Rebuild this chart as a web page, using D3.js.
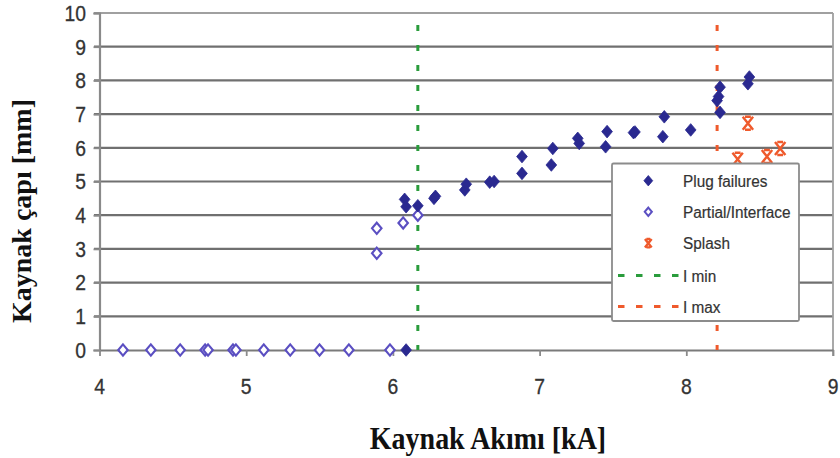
<!DOCTYPE html>
<html>
<head>
<meta charset="utf-8">
<script src="https://cdn.jsdelivr.net/npm/d3@7"></script>
<style>
  html, body { margin: 0; padding: 0; background: #fff; }
  svg { display: block; }
</style>
</head>
<body>
<svg id="chart" width="840" height="458"></svg>
<script>
// ---------------- DATA ----------------
const xTicks = [4, 5, 6, 7, 8, 9];
const yTicks = [0, 1, 2, 3, 4, 5, 6, 7, 8, 9, 10];

const plugX = [6.09, 6.08, 6.09, 6.17, 6.28, 6.29, 6.49, 6.50, 6.66, 6.69, 6.88, 6.88, 7.08, 7.09, 7.26, 7.27, 7.45, 7.46, 7.64, 7.65, 7.84, 7.85, 8.03, 8.23, 8.21, 8.22, 8.23, 8.42, 8.43];
const plugY = [0.00, 4.47, 4.25, 4.28, 4.50, 4.56, 4.75, 4.92, 4.98, 5.00, 5.24, 5.74, 5.49, 5.98, 6.28, 6.13, 6.03, 6.48, 6.45, 6.47, 6.33, 6.92, 6.53, 7.80, 7.40, 7.52, 7.05, 7.90, 8.10];

const partialX = [4.16, 4.35, 4.55, 4.72, 4.74, 4.91, 4.93, 5.12, 5.30, 5.50, 5.70, 5.98, 5.89, 5.89, 6.07, 6.17];
const partialY = [0, 0, 0, 0, 0, 0, 0, 0, 0, 0, 0, 0, 3.61, 2.87, 3.77, 4.00];

const splashX = [8.42, 8.35, 8.55, 8.64];
const splashY = [6.73, 5.66, 5.74, 5.98];

const iMin = 6.17;
const iMax = 8.21;

const legendLabels = ["Plug failures", "Partial/Interface", "Splash", "I min", "I max"];
const xTitle = "Kaynak Akımı [kA]";
const yTitle = "Kaynak çapı [mm]";

// ---------------- STYLE ----------------
const C_PLUG = "#2a2990";
const C_PART = "#5b4fc2";
const C_SPLASH = "#ef5a2c";
const C_GREEN = "#2a9c3c";
const C_RED = "#ef5a2c";
const SANS = "'Liberation Sans', Arial, sans-serif";
const SERIF = "'Liberation Serif', 'Times New Roman', serif";

const svg = d3.select("#chart");
const x = d3.scaleLinear().domain([4, 9]).range([99.5, 833]);
const y = d3.scaleLinear().domain([0, 10]).range([350, 13]);

// gridlines
const grid = svg.append("g");
grid.selectAll("line.h").data(yTicks.filter(d => d > 0)).enter().append("line")
  .attr("x1", 94).attr("x2", x(9))
  .attr("y1", d => y(d)).attr("y2", d => y(d))
  .attr("stroke", d => d === 10 ? "#a0a0a0" : "#707070")
  .attr("stroke-width", d => d === 10 ? 1.8 : 2.2);

// right frame
svg.append("line").attr("x1", x(9)).attr("x2", x(9)).attr("y1", y(10)).attr("y2", y(0) + 6)
  .attr("stroke", "#a0a0a0").attr("stroke-width", 1.8);

// y axis (left)
const yAxis = d3.axisLeft(y).tickValues(yTicks).tickSize(6).tickFormat("");
const gy = svg.append("g").attr("transform", `translate(${x(4)},0)`).call(yAxis);
gy.select(".domain").attr("stroke", "#8a8a8a").attr("stroke-width", 2.2);
gy.selectAll(".tick line").attr("stroke", "#8a8a8a").attr("stroke-width", 1.8);

// x axis (bottom)
const xAxis = d3.axisBottom(x).tickValues(xTicks).tickSize(6).tickSizeOuter(0).tickFormat("");
const gx = svg.append("g").attr("transform", `translate(0,${y(0)})`).call(xAxis);
gx.select(".domain").attr("stroke", "#7a7a7a").attr("stroke-width", 2.2);
gx.selectAll(".tick line").attr("stroke", "#8a8a8a").attr("stroke-width", 1.8);

// tick labels
svg.append("g").selectAll("text").data(yTicks).enter().append("text")
  .attr("transform", d => `translate(86,${y(d) + 7.8}) scale(0.92,1.06)`)
  .attr("text-anchor", "end")
  .attr("font-family", SANS).attr("font-size", 21)
  .attr("fill", "#333").attr("stroke", "#333").attr("stroke-width", 0.3)
  .text(d => d);
svg.append("g").selectAll("text").data(xTicks).enter().append("text")
  .attr("transform", d => `translate(${x(d)},${394}) scale(0.92,1.06)`)
  .attr("text-anchor", "middle")
  .attr("font-family", SANS).attr("font-size", 21)
  .attr("fill", "#333").attr("stroke", "#333").attr("stroke-width", 0.3)
  .text(d => d);

// axis titles
svg.append("text")
  .attr("transform", `translate(488,449) scale(1,1.15)`)
  .attr("text-anchor", "middle")
  .attr("font-family", SERIF).attr("font-weight", "bold").attr("font-size", 28)
  .attr("fill", "#111")
  .text(xTitle);
svg.append("text")
  .attr("transform", `translate(31,211) rotate(-90)`)
  .attr("text-anchor", "middle")
  .attr("font-family", SERIF).attr("font-weight", "bold").attr("font-size", 28)
  .attr("fill", "#111")
  .text(yTitle);

// I min / I max dashed verticals
svg.append("line").attr("x1", x(iMin)).attr("x2", x(iMin)).attr("y1", 25).attr("y2", y(0))
  .attr("stroke", C_GREEN).attr("stroke-width", 3).attr("stroke-dasharray", "6,14");
svg.append("line").attr("x1", x(iMax)).attr("x2", x(iMax)).attr("y1", 25).attr("y2", y(0))
  .attr("stroke", C_RED).attr("stroke-width", 3).attr("stroke-dasharray", "6,14");

// marker shapes
const diamond = s => `M0,${-s} L${s*0.85},0 L0,${s} L${-s*0.85},0 Z`;
const splashPath = s => `M${-s*0.8},${-s} L${s*0.8},${s} M${s*0.8},${-s} L${-s*0.8},${s} M${-s*0.45},${-s} H${s*0.45} M${-s*0.45},${s} H${s*0.45}`;

const plugData = plugX.map((v, i) => ({x: v, y: plugY[i]}));
const partData = partialX.map((v, i) => ({x: v, y: partialY[i]}));
const splashData = splashX.map((v, i) => ({x: v, y: splashY[i]}));

svg.append("g").selectAll("path").data(partData).enter().append("path")
  .attr("transform", d => `translate(${x(d.x)},${y(d.y)})`)
  .attr("d", diamond(5.6))
  .attr("fill", "#fff").attr("stroke", C_PART).attr("stroke-width", 2.1);

svg.append("g").selectAll("path").data(plugData).enter().append("path")
  .attr("transform", d => `translate(${x(d.x)},${y(d.y)})`)
  .attr("d", diamond(6.3))
  .attr("fill", C_PLUG).attr("stroke", C_PLUG).attr("stroke-width", 0.8);

svg.append("g").selectAll("path").data(splashData).enter().append("path")
  .attr("transform", d => `translate(${x(d.x)},${y(d.y)})`)
  .attr("d", splashPath(6.5))
  .attr("fill", "none").attr("stroke", C_SPLASH).attr("stroke-width", 2.4);

// legend
const lg = svg.append("g");
lg.append("rect").attr("x", 612).attr("y", 163.5).attr("width", 187).attr("height", 157.5)
  .attr("fill", "#fff").attr("stroke", "#8c8c8c").attr("stroke-width", 1.8).attr("rx", 1.5);
const rowY = [180.7, 211.8, 243.2, 275.5, 306.5];
const legMarkX = 648.3;
lg.append("path").attr("transform", `translate(${legMarkX},${rowY[0]})`).attr("d", diamond(5.2))
  .attr("fill", C_PLUG).attr("stroke", C_PLUG).attr("stroke-width", 0.8);
lg.append("path").attr("transform", `translate(${legMarkX},${rowY[1]})`).attr("d", diamond(4.2))
  .attr("fill", "#fff").attr("stroke", C_PART).attr("stroke-width", 2);
lg.append("path").attr("transform", `translate(${legMarkX},${rowY[2]})`).attr("d", splashPath(4.2))
  .attr("fill", "none").attr("stroke", C_SPLASH).attr("stroke-width", 2.4);
lg.append("line").attr("x1", 618).attr("x2", 680).attr("y1", rowY[3]).attr("y2", rowY[3])
  .attr("stroke", C_GREEN).attr("stroke-width", 3).attr("stroke-dasharray", "6.5,11.5");
lg.append("line").attr("x1", 618).attr("x2", 680).attr("y1", rowY[4]).attr("y2", rowY[4])
  .attr("stroke", C_RED).attr("stroke-width", 3).attr("stroke-dasharray", "6.5,11.5");
lg.selectAll("text.l").data(legendLabels).enter().append("text")
  .attr("transform", (d, i) => `translate(683,${rowY[i] + 6}) scale(0.96,1.08)`)
  .attr("font-family", SANS).attr("font-size", 16)
  .attr("fill", "#333").attr("stroke", "#333").attr("stroke-width", 0.2)
  .text(d => d);
</script>
</body>
</html>
